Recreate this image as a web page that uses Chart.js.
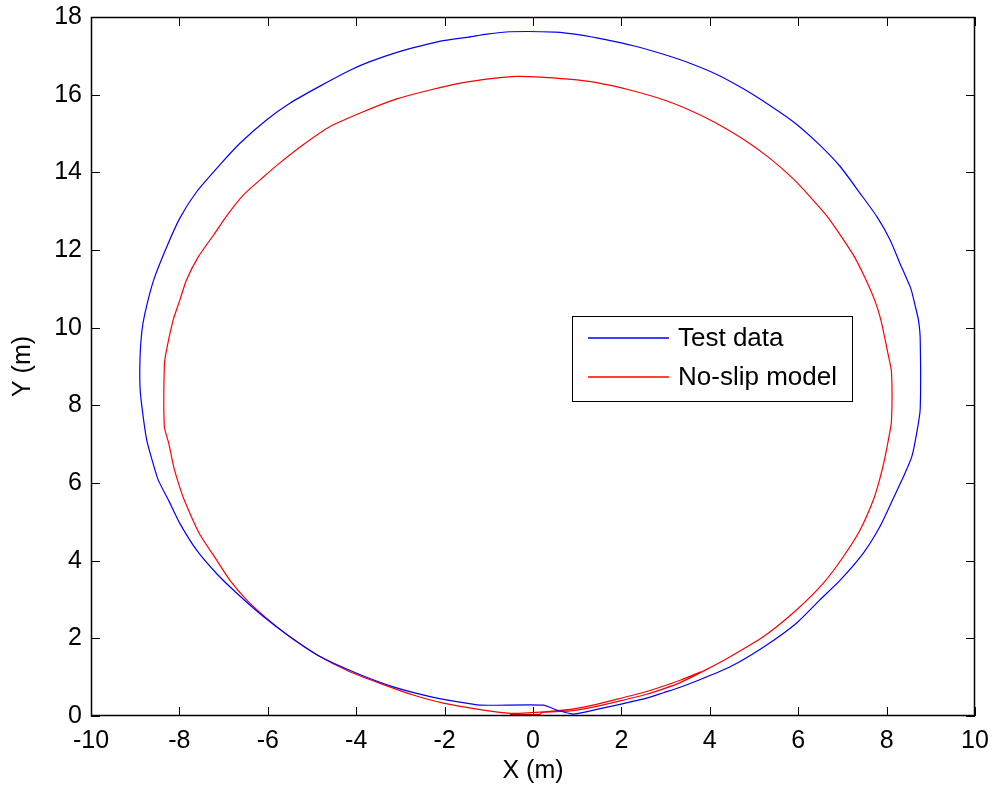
<!DOCTYPE html>
<html>
<head>
<meta charset="utf-8">
<title>Trajectory</title>
<script src="https://cdn.jsdelivr.net/npm/chart.js@4/dist/chart.umd.min.js"></script>
<style>
  html, body { margin: 0; padding: 0; background: #fff; }
  canvas { display: block; }
</style>
</head>
<body>
<canvas id="trajChart" width="994" height="789"></canvas>
<script>
// measured path of the vehicle (m)
var testX = [0.54, 0.91, 1.44, 1.97, 2.57, 2.95, 3.33, 3.70, 4.45, 5.21, 5.96, 6.49, 6.95, 7.47, 7.85, 8.15, 8.38, 8.57, 8.68, 8.76,
  8.76, 8.72, 8.66, 8.55, 8.30, 8.08, 7.78, 7.40, 6.95, 6.49, 5.96, 5.36, 4.76, 4.16, 3.55, 2.95, 2.27, 1.67, 1.06, 0.50,
  -0.52, -1.05, -1.46, -2.03, -2.56, -3.08, -3.69, -4.14, -4.82, -5.50, -6.03, -6.63, -7.08, -7.61, -7.99, -8.29, -8.59, -8.78, -8.85, -8.89,
  -8.89, -8.83, -8.74, -8.63, -8.48, -8.23, -7.99, -7.61, -7.16, -6.70, -6.10, -5.50, -4.82, -3.99, -3.16, -2.33, -1.73, -1.20, 0.23, 0.54];
var testY = [0.15, 0.05, 0.17, 0.30, 0.46, 0.60, 0.74, 0.90, 1.26, 1.77, 2.39, 2.99, 3.50, 4.19, 4.88, 5.60, 6.16, 6.68, 7.28, 7.90,
  9.73, 10.20, 10.50, 11.00, 11.66, 12.26, 12.86, 13.46, 14.15, 14.70, 15.24, 15.72, 16.15, 16.52, 16.81, 17.04, 17.26, 17.41, 17.54, 17.61,
  17.62, 17.56, 17.48, 17.39, 17.25, 17.09, 16.85, 16.63, 16.22, 15.78, 15.35, 14.75, 14.20, 13.50, 12.82, 12.07, 11.20, 10.37, 9.90, 9.25,
  8.44, 7.80, 7.11, 6.64, 6.08, 5.52, 4.96, 4.27, 3.67, 3.16, 2.56, 2.04, 1.53, 1.10, 0.75, 0.50, 0.37, 0.28, 0.28, 0.15];

// no-slip model prediction (m)
var modelX = [-0.52, 0.16, 0.20, 0.84, 1.44, 1.97, 2.57, 2.95, 3.33, 3.93, 4.45, 5.21, 5.96, 6.57, 7.02, 7.40, 7.70, 7.84, 7.95, 8.04, 8.11,
  8.11, 8.03, 7.87, 7.73, 7.50, 7.27, 6.98, 6.66, 6.27, 5.89, 5.36, 4.76, 4.16, 3.55, 2.95, 2.19, 1.44, 0.80, 0.05,
  -0.37, -0.90, -1.58, -2.33, -3.08, -3.84, -4.59, -5.20, -5.72, -6.10, -6.55, -6.93, -7.23, -7.57, -7.84, -7.99, -8.14, -8.29, -8.34,
  -8.34, -8.24, -8.13, -8.02, -7.89, -7.55, -7.16, -6.86, -6.48, -6.03, -5.50, -4.82, -4.22, -3.46, -2.71, -2.03, -1.12, -0.52,
  0.16, 0.84, 1.20, 1.82, 2.57, 3.33, 3.80];
var modelY = [0.04, 0.04, 0.09, 0.13, 0.25, 0.39, 0.56, 0.70, 0.86, 1.20, 1.52, 2.04, 2.73, 3.42, 4.10, 4.79, 5.56, 6.08, 6.59, 7.11, 7.58,
  8.87, 9.34, 10.20, 10.71, 11.31, 11.83, 12.34, 12.86, 13.37, 13.83, 14.36, 14.85, 15.26, 15.60, 15.87, 16.12, 16.31, 16.40, 16.46,
  16.47, 16.42, 16.31, 16.12, 15.89, 15.56, 15.18, 14.71, 14.25, 13.88, 13.42, 12.88, 12.38, 11.83, 11.23, 10.71, 10.20, 9.43, 9.04,
  7.45, 7.02, 6.42, 5.99, 5.56, 4.70, 4.02, 3.50, 2.99, 2.52, 2.04, 1.53, 1.18, 0.84, 0.54, 0.33, 0.15, 0.07,
  0.10, 0.17, 0.24, 0.41, 0.63, 0.92, 1.14];

var seriesNames = ['Test data', 'No-slip model'];
var seriesColors = ['#0000ff', '#ff0000'];

var xTicks = [-10, -8, -6, -4, -2, 0, 2, 4, 6, 8, 10];
var yTicks = [0, 2, 4, 6, 8, 10, 12, 14, 16, 18];

var FONT = '"Liberation Sans", Arial, Helvetica, sans-serif';

function toPoints(xs, ys) {
  return xs.map(function(v, i) { return {x: v, y: ys[i]}; });
}

// box, inward ticks on all four sides and the legend, drawn on top
var matlabFrame = {
  id: 'matlabFrame',
  afterDraw: function(chart) {
    var ctx = chart.ctx;
    var a = chart.chartArea;
    var sx = chart.scales.x, sy = chart.scales.y;
    var tick = 9;
    ctx.save();
    ctx.strokeStyle = '#000';
    ctx.lineWidth = 1;
    ctx.beginPath();
    xTicks.forEach(function(v) {
      var px = Math.round(sx.getPixelForValue(v)) + 0.5;
      ctx.moveTo(px, a.bottom); ctx.lineTo(px, a.bottom - tick);
      ctx.moveTo(px, a.top); ctx.lineTo(px, a.top + tick);
    });
    yTicks.forEach(function(v) {
      var py = Math.round(sy.getPixelForValue(v)) + 0.5;
      ctx.moveTo(a.left, py); ctx.lineTo(a.left + tick, py);
      ctx.moveTo(a.right, py); ctx.lineTo(a.right - tick, py);
    });
    ctx.stroke();
    ctx.lineWidth = 1.5;
    ctx.strokeRect(a.left + 0.5, a.top + 0.5, a.right - a.left - 1, a.bottom - a.top - 1);

    // legend
    var lx = a.left + 481, ly = a.top + 299, lw = 280, lh = 85;
    ctx.fillStyle = '#fff';
    ctx.fillRect(lx, ly, lw, lh);
    ctx.lineWidth = 1;
    ctx.strokeRect(lx + 0.5, ly + 0.5, lw, lh);
    ctx.font = '26px ' + FONT;
    ctx.textBaseline = 'middle';
    chart.data.datasets.forEach(function(ds, i) {
      var rowY = Math.round(ly + 22 + i * 38.5);
      ctx.strokeStyle = ds.borderColor;
      ctx.lineWidth = 1.3;
      ctx.beginPath();
      ctx.moveTo(lx + 16, rowY);
      ctx.lineTo(lx + 97, rowY);
      ctx.stroke();
      ctx.fillStyle = '#000';
      ctx.fillText(ds.label, lx + 106, rowY + 1);
    });
    ctx.restore();
  }
};

var ctx = document.getElementById('trajChart');
var myChart = new Chart(ctx, {
  type: 'scatter',
  data: {
    datasets: [{
      label: seriesNames[0],
      data: toPoints(testX, testY),
      borderColor: seriesColors[0],
      backgroundColor: seriesColors[0],
      borderWidth: 1.2,
      showLine: true,
      pointRadius: 0,
      tension: 0.2
    }, {
      label: seriesNames[1],
      data: toPoints(modelX, modelY),
      borderColor: seriesColors[1],
      backgroundColor: seriesColors[1],
      borderWidth: 1.2,
      showLine: true,
      pointRadius: 0,
      tension: 0.2
    }]
  },
  options: {
    responsive: false,
    animation: false,
    layout: {
      padding: {top: 17, right: 19, left: 0, bottom: 0}
    },
    plugins: {
      legend: {display: false},
      tooltip: {enabled: false}
    },
    scales: {
      x: {
        type: 'linear',
        min: -10,
        max: 10,
        afterBuildTicks: function(scale) {
          scale.ticks = xTicks.map(function(v) { return {value: v}; });
        },
        afterFit: function(scale) {
          scale.height = 73;
          scale.paddingLeft = 0;
          scale.paddingRight = 0;
        },
        grid: {display: false, drawTicks: false},
        border: {display: false},
        ticks: {
          color: '#000',
          padding: 10,
          maxRotation: 0,
          font: {family: FONT, size: 25}
        },
        title: {
          display: true,
          text: 'X (m)',
          color: '#000',
          padding: {top: 0, bottom: 3},
          font: {family: FONT, size: 25}
        }
      },
      y: {
        type: 'linear',
        min: 0,
        max: 18,
        afterBuildTicks: function(scale) {
          scale.ticks = yTicks.map(function(v) { return {value: v}; });
        },
        afterFit: function(scale) {
          scale.width = 91;
          scale.paddingTop = 0;
          scale.paddingBottom = 0;
        },
        grid: {display: false, drawTicks: false},
        border: {display: false},
        ticks: {
          color: '#000',
          padding: 9,
          font: {family: FONT, size: 25}
        },
        title: {
          display: true,
          text: 'Y (m)',
          color: '#000',
          padding: {top: 8, bottom: 0},
          font: {family: FONT, size: 25}
        }
      }
    }
  },
  plugins: [matlabFrame]
});
</script>
</body>
</html>
